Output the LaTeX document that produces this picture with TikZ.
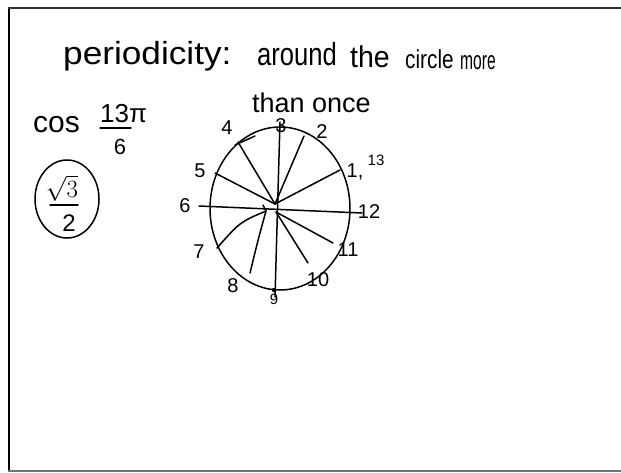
\documentclass[tikz,border=0pt]{standalone}
\usepackage{fontspec}
\setmainfont{Liberation Sans}
\usetikzlibrary{shapes.geometric}
\tikzset{
  ink/.style={line width=1.5pt,line cap=round,line join=round},
  word/.style={anchor=base west,inner sep=0pt,font=\fontsize{32}{32}\selectfont},
  lbl/.style={inner sep=0pt,font=\fontsize{20}{20}\selectfont},
  small/.style={inner sep=0pt,font=\fontsize{15}{15}\selectfont},
}
\begin{document}
\begin{tikzpicture}[x=1pt,y=-1pt]
\useasboundingbox (0,0) rectangle (621,472);
% frame
\draw[line width=2.6pt] (9,8) -- (9,471);
\draw[line width=2pt,black!80] (8,8) -- (621,8);
\draw[line width=1.5pt,black!55] (8,471) -- (621,471);
% title
\node[word] (w1) at (63,64) {\scalebox{1.1}[1]{periodicity:}};
\node[word] (w2) at (257,65) {\scalebox{0.8}[1]{around}};
\node[word,font=\fontsize{30}{30}\selectfont] (w3) at (350,67) {\scalebox{0.95}[1]{the}};
\node[word,font=\fontsize{26}{26}\selectfont] (w4) at (405,68) {\scalebox{0.8}[1]{circle}};
\node[word,font=\fontsize{26}{26}\selectfont] (w5) at (460,69) {\scalebox{0.6}[1]{more}};
\node[word,font=\fontsize{27}{27}\selectfont] (w6) at (252,112) {than once};
% cos 13pi/6
\node[word,font=\fontsize{30}{30}\selectfont] (cos) at (33,132) {cos};
\node[word,font=\fontsize{26}{26}\selectfont] (num) at (100,122) {13π};
\coordinate (barL) at (100,128);
\coordinate (barR) at (131,128);
\draw[ink] (barL) -- (barR);
\node[lbl,font=\fontsize{22}{22}\selectfont] (den) at (120,147) {6};
% sqrt3/2 in oval
\node[draw,ellipse,ink,minimum width=64pt,minimum height=78pt,inner sep=0pt] (oval) at (67,199) {};
\node[inner sep=0pt,font=\fontsize{24}{24}\selectfont] (sq) at (62,188) {$\sqrt{3}$};
\coordinate (fbL) at (50,205);
\coordinate (fbR) at (78,205);
\draw[ink] (fbL) -- (fbR);
\node[lbl,font=\fontsize{24}{24}\selectfont] (two) at (69,223) {2};
% unit circle
\coordinate (c) at (280,208.5);
\draw[ink] (c) ellipse [x radius=70, y radius=81.5];
\coordinate (hub) at (275,204);
\coordinate (hubL) at (266,211);
\coordinate (hubR) at (276,212);
\coordinate (p2) at (304,136);
\coordinate (p1) at (340,170);
\coordinate (p4) at (238,142);
\coordinate (p5) at (215,173);
\coordinate (p7) at (217,248);
\coordinate (p8) at (250,273);
\coordinate (p10) at (308,263);
\coordinate (p11) at (333,243);
\coordinate (top) at (280,122);
\coordinate (bot) at (275,297);
\coordinate (left) at (199,206);
\coordinate (right) at (362,213);
\draw[ink] (hub) -- (p2);
\draw[ink] (hub) -- (p1);
\draw[ink] (hub) -- (p4);
\draw[ink] (hub) -- (p5);
\draw[ink] (top) -- (bot);
\draw[ink] (left) -- (right);
\draw[ink] (hubL) .. controls (240,222) .. (p7);
\draw[ink] (hubL) .. controls (258,240) .. (p8);
\draw[ink] (hubR) -- (p10);
\draw[ink] (hubR) -- (p11);
\coordinate (t1) at (263,205);
\coordinate (t2) at (266,211);
\draw[ink] (t1) -- (t2);
\coordinate (k1) at (235,145);
\coordinate (k2) at (255,136);
\draw[ink] (k1) -- (k2);
\fill (274,290) circle (2.2pt);
% labels
\node[lbl] (l4) at (227,128) {4};
\node[lbl] (l3) at (281,126) {3};
\node[lbl] (l2) at (322,132) {2};
\node[lbl] (l1) at (355,172) {1,};
\node[small] (l13) at (376,160) {13};
\node[lbl] (l5) at (200,171) {5};
\node[lbl] (l6) at (185,206) {6};
\node[lbl] (l12) at (369,212) {12};
\node[lbl] (l11) at (348,250) {11};
\node[lbl] (l10) at (318,280) {10};
\node[small] (l9) at (274,299) {9};
\node[lbl] (l8) at (233,286) {8};
\node[lbl] (l7) at (199,252) {7};
\end{tikzpicture}
\end{document}
